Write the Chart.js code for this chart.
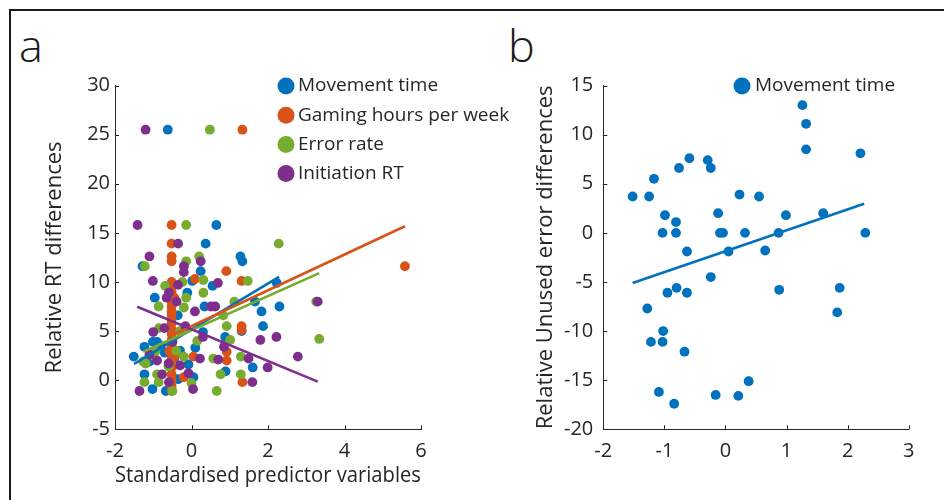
<!DOCTYPE html>
<html>
<head>
<meta charset="utf-8">
<script src="https://cdn.jsdelivr.net/npm/chart.js@4.4.1/dist/chart.umd.min.js"></script>
<style>
  html, body { margin: 0; padding: 0; background: #fff; }
  #fig { position: relative; width: 944px; height: 500px; overflow: hidden; font-family: 'Open Sans', sans-serif; }
  .frame { position: absolute; left: 9px; top: 9px; right: -10px; bottom: -10px;
           border-top: 2px solid #1a1a1a; border-left: 2px solid #1a1a1a; }
  .tag { position: absolute; font-size: 45px; font-weight: 300; line-height: 1; color: #1a1a1a; }
  canvas { position: absolute; top: 0; }
</style>
</head>
<body>
<div id="fig">
  <div class="frame"></div>
  <div class="tag" style="left:19px; top:22px;">a</div>
  <div class="tag" style="left:508px; top:22px;">b</div>
  <canvas id="chartA" width="560" height="500" style="left:0"></canvas>
  <canvas id="chartB" width="472" height="500" style="left:472px"></canvas>
</div>
<script>
// ---- panel a: standardised predictors vs relative RT differences ----
const mtX = [-0.62, 0.65, 0.37, 1.28, 1.33, -1.28, 0.24, 0.02, 0.55, 2.23, -0.11, -0.96, 1.66, 0.34, 2.30, 1.83, -0.36, 1.87, 1.31, 0.88,
             -1.01, -1.23, -1.51, 1.60, 0.89, -1.23, -1.02, -0.67, -0.08, -0.30, -0.80, -0.50, 0.10, -0.45, 0.30, -0.70, -1.10, 0.05, -0.35, -0.90];
const mtY = [25.5, 15.8, 13.9, 12.6, 12.1, 11.6, 11.1, 10.1, 9.6, 9.9, 8.9, 8.4, 8.0, 7.5, 7.5, 7.0, 6.6, 5.5, 5.0, 4.4,
             3.9, 3.4, 2.4, 1.3, 0.9, 0.6, -0.9, -1.1, 1.6, 3.0, 3.5, 4.0, 3.3, 2.2, 4.9, 2.8, 1.9, 0.3, 0.1, 3.9];

const ghX = [1.33, -0.52, -0.52, -0.52, -0.52, -0.52, -0.52, -0.52, -0.52, -0.52, -0.52, -0.52, -0.52, -0.52,
             -0.52, -0.52, -0.52, -0.52, -0.52, -0.52, -0.52, -0.52, -0.52, -0.52, -0.52, -0.52, -0.52,
             -0.58, -0.58, -0.45, -0.45, 0.05, 0.09, 0.91, 1.31, 1.31, 1.31, 0.92, 0.92, 1.33, 5.58, -0.20];
const ghY = [25.5, 15.8, 13.9, 12.6, 12.1, 10.0, 9.6, 9.0, 8.5, 8.0, 7.5, 7.0, 6.6, 6.2,
             5.8, 5.2, 4.7, 4.1, 3.6, 3.2, 2.5, 2.0, 1.3, 0.6, 0.0, -0.6, -1.1,
             9.0, 3.0, 8.4, 2.4, 2.4, 10.3, 11.1, 10.1, 5.5, 5.1, 2.9, 2.0, -0.2, 11.6, 0.3];

const erX = [0.48, -0.14, 2.28, 0.20, -0.14, -1.22, -0.24, 0.31, 1.47, -0.69, 0.31, -0.14, 3.26, 1.12, -0.86, -0.20, 0.83, 0.92, -0.85, 3.34,
             1.01, 1.29, 0.57, 0.76, 1.29, 0.66, -1.23, -0.86, -0.50, -1.20, -1.00, -0.40, -0.20, -0.60, -1.26, -0.90, 0.00, -0.30, -0.95, 0.15];
const erY = [25.5, 15.8, 13.9, 12.6, 12.1, 11.6, 10.0, 10.2, 10.1, 9.6, 8.9, 8.4, 8.0, 8.0, 7.5, 7.4, 6.6, 5.5, 5.3, 4.2,
             4.1, 2.4, 2.2, 0.6, 0.6, -1.1, -0.2, -0.2, -1.1, 1.7, 2.5, 3.0, 2.4, 1.4, 1.9, 0.6, -0.3, 5.0, 2.9, 4.0];

const irX = [-1.20, -1.41, -0.35, -1.10, 0.24, -0.20, -0.20, -1.01, 0.69, -0.35, -0.59, -0.65, -0.39, 3.30, 0.51, 0.62, 0.09, -0.16, -0.71, 1.80,
             2.22, 0.85, 1.49, 2.78, 1.99, 1.59, -1.36, -0.77, -0.59, 0.04, 0.22, -0.08, 0.70, -0.90, -1.10, -0.30, -0.60, 0.30, -0.50, -1.00];
const irY = [25.5, 15.8, 13.9, 12.6, 12.1, 11.6, 11.0, 10.1, 9.9, 9.7, 8.9, 8.4, 8.0, 8.0, 7.5, 7.5, 7.0, 5.5, 5.3, 4.1,
             4.4, 3.4, 2.2, 2.4, 1.3, -0.2, -1.1, 0.6, -0.2, -0.9, 2.2, 0.7, 2.1, 2.0, 2.6, 1.5, 1.7, 4.4, 3.9, 4.9];

// least-squares fit end points per predictor
const mtFitX = [-1.50, 2.29],  mtFitY = [1.65, 10.52];
const ghFitX = [-0.58, 5.58],  ghFitY = [4.45, 15.67];
const erFitX = [-1.26, 3.34],  erFitY = [2.90, 10.90];
const irFitX = [-1.42, 3.30],  irFitY = [7.47, -0.15];

const labelsA = ['Movement time', 'Gaming hours per week', 'Error rate', 'Initiation RT'];
const xTicksA = [-2, 0, 2, 4, 6];
const yTicksA = [-5, 0, 5, 10, 15, 20, 25, 30];

// ---- panel b: movement time vs relative unused error differences ----
const ueX = [-1.52, -1.25, -1.17, -0.99, -1.03, -0.81, -0.81, -0.76, -0.59, -0.63, -0.29, -0.24, -0.12, -0.09, -0.04,
             0.05, 0.23, 0.32, 0.55, 0.65, 0.87, 0.99, 1.26, 1.32, 1.32, 1.60, 2.21, 2.29,
             -0.24, -1.28, -0.95, -0.80, -0.63, 0.88, 1.87, 1.83, -1.02, -1.22, -1.03, -0.67, -1.09, -0.84, -0.16, 0.21, 0.38];
const ueY = [3.7, 3.7, 5.5, 1.8, 0.0, 1.1, 0.0, 6.6, 7.6, -1.9, 7.4, 6.6, 2.0, 0.0, 0.0,
             -1.9, 3.9, 0.0, 3.7, -1.8, 0.0, 1.8, 13.0, 11.1, 8.5, 2.0, 8.1, 0.0,
             -4.5, -7.7, -6.1, -5.6, -6.1, -5.8, -5.6, -8.1, -10.0, -11.1, -11.1, -12.1, -16.2, -17.4, -16.5, -16.6, -15.1];
const ueFitX = [-1.52, 2.27], ueFitY = [-5.1, 2.97];

const labelsB = ['Movement time'];
const xTicksB = [-2, -1, 0, 1, 2, 3];
const yTicksB = [-20, -15, -10, -5, 0, 5, 10, 15];

// MATLAB-style line colours
const colors = ['#0072BD', '#D95319', '#77AC30', '#7E2F8E'];
const ink = '#262626';

Chart.defaults.font.family = "'Open Sans', sans-serif";
Chart.defaults.color = ink;

function pts(xs, ys) {
    return xs.map((x, i) => ({ x, y: ys[i] }));
}

function dots(label, xs, ys, color, order) {
    return {
        type: 'scatter', label, data: pts(xs, ys), order,
        backgroundColor: color, pointRadius: 4.9, pointBorderWidth: 0, pointHoverRadius: 4.9,
    };
}

function fitLine(xs, ys, color, order) {
    return {
        type: 'scatter', data: pts(xs, ys), order, showLine: true,
        borderColor: color, borderWidth: 2.6, pointRadius: 0, fill: false,
    };
}

// tick marks drawn on the inside of the axes
const inwardTicks = {
    id: 'inwardTicks',
    afterDraw(chart) {
        const ctx = chart.ctx;
        ctx.save();
        ctx.strokeStyle = ink;
        ctx.lineWidth = 1;
        Object.values(chart.scales).forEach(scale => {
            scale.ticks.forEach(t => {
                const p = scale.getPixelForValue(t.value);
                ctx.beginPath();
                if (scale.isHorizontal()) {
                    const y0 = scale.top;
                    ctx.moveTo(Math.round(p) + 0.5, y0);
                    ctx.lineTo(Math.round(p) + 0.5, y0 - 4);
                } else {
                    const x0 = scale.right;
                    ctx.moveTo(x0, Math.round(p) + 0.5);
                    ctx.lineTo(x0 + 4, Math.round(p) + 0.5);
                }
                ctx.stroke();
            });
        });
        ctx.restore();
    }
};

// filled-circle legend at a fixed spot inside the axes
const dotLegend = {
    id: 'dotLegend',
    afterDraw(chart, args, opts) {
        const ctx = chart.ctx;
        ctx.save();
        ctx.font = `${opts.size}px 'Open Sans', sans-serif`;
        ctx.textBaseline = 'middle';
        opts.items.forEach((item, i) => {
            const y = opts.y + i * opts.gap;
            ctx.beginPath();
            ctx.fillStyle = item.color;
            ctx.arc(opts.x, y, opts.r, 0, Math.PI * 2);
            ctx.fill();
            ctx.fillStyle = ink;
            ctx.fillText(item.label, opts.x + opts.textGap, y);
        });
        ctx.restore();
    }
};

function axes(xMin, xMax, xStep, yMin, yMax, yStep, xTitle, yTitle, yWidth, yPad, yTitlePad) {
    const tickFont = { size: 20 };
    return {
        x: {
            type: 'linear', min: xMin, max: xMax,
            grid: { display: false, drawTicks: false },
            border: { display: true, color: ink, width: 1 },
            ticks: { stepSize: xStep, font: tickFont, color: ink, padding: 10, maxRotation: 0 },
            title: { display: !!xTitle, text: xTitle, font: { size: 22 }, color: ink, padding: { top: 0, bottom: 11 } },
            afterFit: s => { s.height = 500 - 429.3; },
        },
        y: {
            type: 'linear', min: yMin, max: yMax,
            grid: { display: false, drawTicks: false },
            border: { display: true, color: ink, width: 1 },
            ticks: { stepSize: yStep, font: tickFont, color: ink, padding: yPad },
            title: { display: true, text: yTitle, font: { size: 22 }, color: ink, padding: { top: yTitlePad, bottom: 0 } },
            afterFit: s => { s.width = yWidth; },
        }
    };
}

// panel a (canvas is wider than the axes so the legend text has room)
new Chart(document.getElementById('chartA'), {
    type: 'scatter',
    data: {
        datasets: [
            dots(labelsA[0], mtX, mtY, colors[0], 8),
            dots(labelsA[1], ghX, ghY, colors[1], 7),
            dots(labelsA[2], erX, erY, colors[2], 6),
            dots(labelsA[3], irX, irY, colors[3], 5),
            fitLine(mtFitX, mtFitY, colors[0], 4),
            fitLine(ghFitX, ghFitY, colors[1], 3),
            fitLine(erFitX, erFitY, colors[2], 2),
            fitLine(irFitX, irFitY, colors[3], 1),
        ]
    },
    options: {
        responsive: false,
        animation: false,
        events: [],
        layout: { padding: { left: 0, right: 139, top: 85.5, bottom: 0 } },
        scales: axes(xTicksA[0], xTicksA[xTicksA.length - 1], 2, yTicksA[0], yTicksA[yTicksA.length - 1], 5,
                     'Standardised predictor variables', 'Relative RT differences', 115, 5, 41.8),
        plugins: {
            legend: { display: false },
            tooltip: { enabled: false },
            dotLegend: {
                x: 286, y: 86, gap: 29.2, r: 8.5, textGap: 12, size: 19,
                items: labelsA.map((label, i) => ({ label, color: colors[i] }))
            }
        }
    },
    plugins: [inwardTicks, dotLegend]
});

// panel b
new Chart(document.getElementById('chartB'), {
    type: 'scatter',
    data: {
        datasets: [
            dots(labelsB[0], ueX, ueY, colors[0], 2),
            fitLine(ueFitX, ueFitY, colors[0], 1),
        ]
    },
    options: {
        responsive: false,
        animation: false,
        events: [],
        layout: { padding: { left: 0, right: 35.3, top: 85.5, bottom: 0 } },
        scales: axes(xTicksB[0], xTicksB[xTicksB.length - 1], 1, yTicksB[0], yTicksB[yTicksB.length - 1], 5,
                     '', 'Relative Unused error differences', 131.3, 10, 60.8),
        plugins: {
            legend: { display: false },
            tooltip: { enabled: false },
            dotLegend: {
                x: 270, y: 86, gap: 29.2, r: 8.5, textGap: 13, size: 19,
                items: labelsB.map(label => ({ label, color: colors[0] }))
            }
        }
    },
    plugins: [inwardTicks, dotLegend]
});
</script>
</body>
</html>
